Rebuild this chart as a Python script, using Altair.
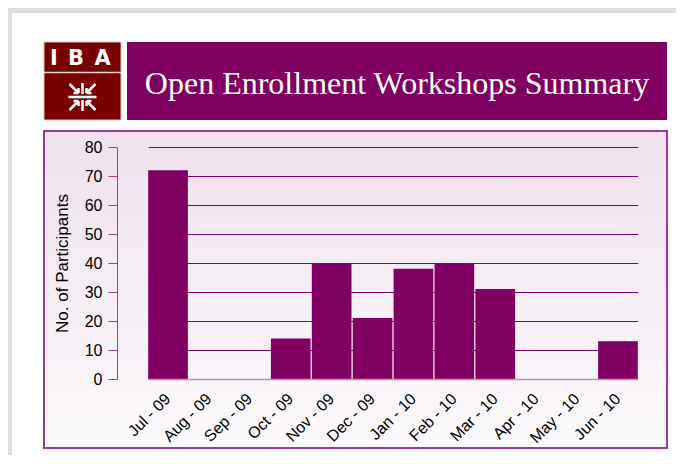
import altair as alt
import pandas as pd

# ---- data ----
months = ["Jul - 09", "Aug - 09", "Sep - 09", "Oct - 09", "Nov - 09", "Dec - 09",
          "Jan - 10", "Feb - 10", "Mar - 10", "Apr - 10", "May - 10", "Jun - 10"]
participants = [72, 0, 0, 14, 40, 21, 38, 40, 31, 0, 0, 13]
y_ticks = [0, 10, 20, 30, 40, 50, 60, 70, 80]
title_text = "Open Enrollment Workshops Summary"
y_title = "No. of Participants"
logo_letters = ["I", "B", "A"]

df = pd.DataFrame({"month": months, "participants": participants})
one = pd.DataFrame({"k": [0]})

# ---- styling ----
PURPLE = "#800062"
GRID = "#850068"
MAROON = "#7a0000"
BOX_STROKE = "#a03a90"
GRAD_TOP = "#efe1ed"
GRAD_BOT = "#fcfafc"
W, H = 531, 232
PAD = {"left": 109, "top": 139, "right": 28, "bottom": 76}


def rect(x, x2, y, y2, **mk):
    return alt.Chart(one).mark_rect(**mk).encode(
        x=alt.value(x), x2=alt.value(x2), y=alt.value(y), y2=alt.value(y2))


def seg(x, y, x2, y2, **mk):
    return alt.Chart(one).mark_rule(**mk).encode(
        x=alt.value(x), y=alt.value(y), x2=alt.value(x2), y2=alt.value(y2))


def txt(x, y, s, **mk):
    return alt.Chart(one).mark_text(text=s, **mk).encode(
        x=alt.value(x), y=alt.value(y))


layers = []
# light gray page frame
layers.append(rect(-PAD["left"], W + PAD["right"], -PAD["top"], -134, color="#dedede"))
layers.append(rect(-PAD["left"], -105, -PAD["top"], H + PAD["bottom"], color="#dedede"))

# chart box with gradient
grad = alt.Gradient(gradient="linear", x1=0, x2=0, y1=0, y2=1,
                    stops=[alt.GradientStop(offset=0, color=GRAD_TOP),
                           alt.GradientStop(offset=1, color=GRAD_BOT)])
layers.append(rect(-73, 550, -16, 301, fill=grad, stroke=BOX_STROKE, strokeWidth=2))

# logo
layers.append(rect(-73, 4, -105, -27, color=MAROON, stroke="#d8c4c4", strokeWidth=1))
layers.append(seg(-73, -74.5, 4, -74.5, color="#ead8d8", strokeWidth=1.5))
for letter, lx in zip(logo_letters, [-63, -41, -14.5]):
    layers.append(txt(lx, -82.5, letter, color="white", font="DejaVu Sans",
                      fontSize=21, fontWeight="bold", align="center", baseline="alphabetic"))
cx, cy = -34.5, -50
sym = [
    (cx - 14, cy, cx + 14, cy),
    (cx, cy - 14, cx, cy - 3),
    (cx, cy + 3, cx, cy + 14),
    (cx - 13, cy - 13, cx - 4, cy - 4),
    (cx + 13, cy - 13, cx + 4, cy - 4),
    (cx - 13, cy + 13, cx - 4, cy + 4),
    (cx + 13, cy + 13, cx + 4, cy + 4),
    # arrow heads
    (cx - 4, cy - 4, cx - 9, cy - 4),
    (cx - 4, cy - 4, cx - 4, cy - 9),
    (cx + 4, cy - 4, cx + 9, cy - 4),
    (cx + 4, cy - 4, cx + 4, cy - 9),
    (cx - 4, cy + 4, cx - 9, cy + 4),
    (cx - 4, cy + 4, cx - 4, cy + 9),
    (cx + 4, cy + 4, cx + 9, cy + 4),
    (cx + 4, cy + 4, cx + 4, cy + 9),
]
for (a, b, c, d) in sym:
    layers.append(seg(a, b, c, d, color="white", strokeWidth=2.5))

# title banner
layers.append(rect(10, 550, -105, -27, color=PURPLE))
layers.append(txt(280, -53, title_text, color="white", font="Liberation Serif",
                  fontSize=32, align="center", baseline="alphabetic"))

# bars
bars = alt.Chart(df).mark_bar(color=PURPLE).encode(
    x=alt.X("month:N", sort=months,
            scale=alt.Scale(range=[31.2, 520.8], paddingInner=0.03, paddingOuter=0),
            axis=alt.Axis(title=None, labelAngle=-45, labelAlign="right",
                          labelBaseline="middle", labelFontSize=16,
                          labelFont="Liberation Sans", labelColor="#000",
                          labelPadding=17, ticks=False, tickSize=0,
                          domainColor="#c48cbc", domainWidth=1.5, grid=False,
                          zindex=1, labelOverlap=False)),
    y=alt.Y("participants:Q", scale=alt.Scale(domain=[0, 80], nice=False),
            axis=alt.Axis(values=y_ticks, title=y_title, titleFontSize=17,
                          titleFont="Liberation Sans", titleFontWeight="normal",
                          titleColor="#000", titleAngle=270, titleX=-55, titleY=H / 2,
                          titleAlign="center", titleBaseline="middle",
                          labelFontSize=16, labelFont="Liberation Sans",
                          labelColor="#000", labelPadding=6, tickSize=9,
                          tickColor="#a04090", domainColor="#a04090",
                          grid=True, gridColor=GRID, gridWidth=1, zindex=1)),
)
layers.append(bars)

chart = alt.layer(*layers).properties(
    width=W, height=H,
    autosize=alt.AutoSizeParams(type="none"),
    padding=PAD,
    background="white",
).configure_view(stroke=None)

chart.save("out.html", embed_options={"renderer": "svg", "actions": False})
